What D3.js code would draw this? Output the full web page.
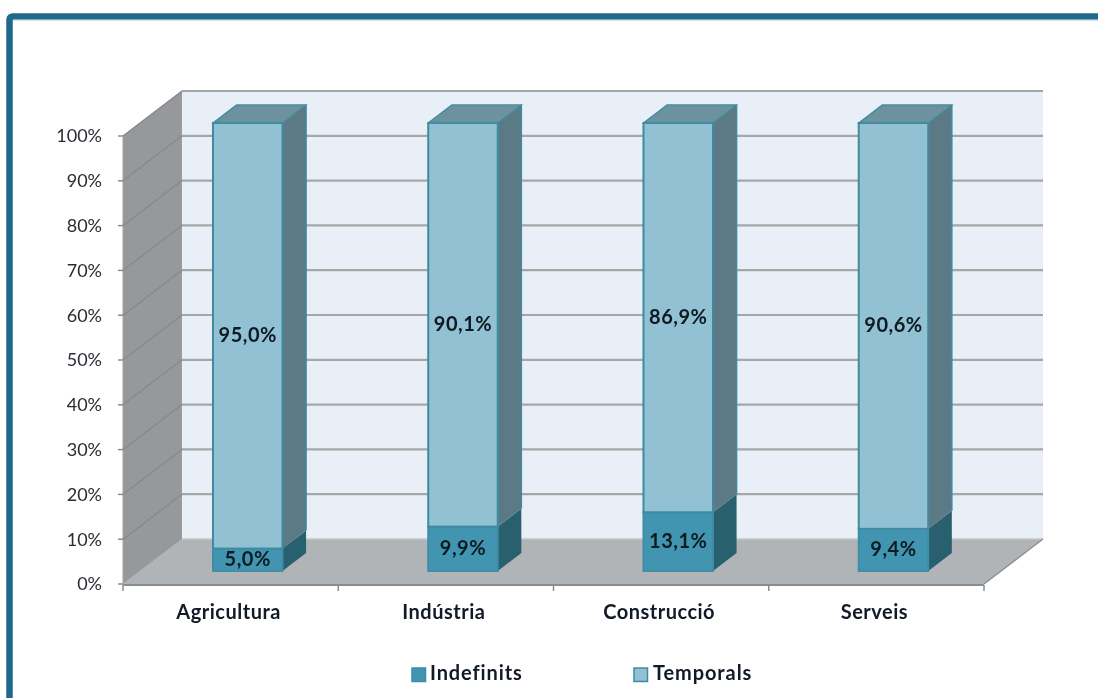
<!DOCTYPE html>
<html><head><meta charset="utf-8">
<script src="https://cdn.jsdelivr.net/npm/d3@7"></script>
<style>html,body{margin:0;padding:0;background:#fff}svg{display:block;filter:blur(0.45px)}</style>
</head><body><svg id="c" width="1098" height="698"></svg>
<script>
const categories = ["Agricultura","Indústria","Construcció","Serveis"];
const indefinits = [5.0,9.9,13.1,9.4];
const temporals = [95.0,90.1,86.9,90.6];
const yTicks = [0,10,20,30,40,50,60,70,80,90,100];
const seriesNames = ["Indefinits","Temporals"];

const svg = d3.select("#c");
const labelFont = "Lato, sans-serif";
const x = d3.scaleBand().domain(categories).range([123,984]);
const xEdge = d3.scaleLinear().domain([0,categories.length]).range([123,984]);
const y = d3.scaleLinear().domain([0,100]).range([584,136]);
const depthX = d3.scaleLinear().domain([0,1]).range([0,59]);
const depthY = d3.scaleLinear().domain([0,1]).range([0,-45]);
const P = (px,v,z)=>[px+depthX(z),y(v)+depthY(z)];
const poly = pts => "M"+pts.map(p=>p.join(",")).join("L")+"Z";

// frame
svg.append("rect").attr("x",9.5).attr("y",16.5).attr("width",1200).attr("height",800).attr("rx",3)
  .attr("fill","#fff").attr("stroke","#1f6a8a").attr("stroke-width",6.5);
svg.append("line").attr("x1",13).attr("x2",1098).attr("y1",20).attr("y2",20).attr("stroke","#a9c6d4").attr("stroke-width",1);

const [L,R]=[123,984];
// walls
svg.append("path").attr("d",poly([P(L,0,0),P(L,100,0),P(L,100,1),P(L,0,1)])).attr("fill","#96989c").attr("stroke","#a0a2a5");
svg.append("path").attr("d",poly([P(L,0,1),P(L,100,1),P(R,100,1),P(R,0,1)])).attr("fill","#e9eff6");
svg.append("path").attr("d",poly([P(L,0,0),P(L,0,1),P(R,0,1),P(R,0,0)])).attr("fill","#b1b4b7");

// gridlines
const grid = svg.append("g").attr("fill","none").attr("stroke","#a6a6a6");
yTicks.forEach(t=>{
  if(t>0){
    grid.append("path").attr("d",d3.line()([P(L,t,1),P(R,t,1)])).attr("stroke-width",2.2);
    grid.append("path").attr("d",d3.line()([P(L,t,0),P(L,t,1)])).attr("stroke","#86888b").attr("stroke-width",1.2);
  }
  grid.append("line").attr("x1",118).attr("x2",L).attr("y1",y(t)).attr("y2",y(t)).attr("stroke","#8c8c8c").attr("stroke-width",1.5);
});
svg.append("path").attr("d",d3.line()([P(L,0,1),P(R,0,1)])).attr("stroke","#c4c7ca").attr("stroke-width",1.5);
svg.append("path").attr("d",d3.line()([P(R,0,0),P(R,0,1)])).attr("stroke","#8f9193").attr("stroke-width",1.5);
svg.append("line").attr("x1",L).attr("x2",R).attr("y1",585).attr("y2",585).attr("stroke","#8c8c8c").attr("stroke-width",2);
d3.range(categories.length+1).forEach(i=>{
  svg.append("line").attr("x1",xEdge(i)).attr("x2",xEdge(i)).attr("y1",585).attr("y2",591).attr("stroke","#8c8c8c").attr("stroke-width",1.5);
});

// bars
const barW = 69.5, z0 = 0.29, z1 = 0.69;
const colors = {
  Indefinits:{front:"#4295b0",side:"#28606f",top:"#35788c",stroke:"#3f8ca6"},
  Temporals:{front:"#92c1d4",side:"#5b7a85",top:"#6c929f",stroke:"#3f8ba0"}
};
categories.forEach((c,i)=>{
  const cx = x(c)+x.bandwidth()/2+depthX(z0);
  const xl = cx-barW/2-depthX(z0), xr = xl+barW;
  const segs=[["Indefinits",0,indefinits[i]],["Temporals",indefinits[i],indefinits[i]+temporals[i]]];
  segs.forEach(([n,a,b])=>{
    const col=colors[n], g=svg.append("g");
    g.append("path").attr("d",poly([P(xr,a,z0),P(xr,b,z0),P(xr,b,z1),P(xr,a,z1)])).attr("fill",col.side);
    if(n==="Temporals"){
      g.append("path").attr("d",poly([P(xl,b,z0),P(xr,b,z0),P(xr,b,z1),P(xl,b,z1)])).attr("fill",col.top).attr("stroke",col.stroke).attr("stroke-width",1.2);
      g.append("path").attr("d",d3.line()([P(xr,b,z1),P(xr,a,z1)])).attr("stroke",col.stroke).attr("stroke-width",1.5);
    }
    const [fx,fy]=P(xl,b,z0), fh=y(a)-y(b);
    g.append("rect").attr("x",fx).attr("y",fy).attr("width",barW).attr("height",fh)
      .attr("fill",col.front).attr("stroke",col.stroke).attr("stroke-width",2);
    const lab=(b-a).toFixed(1).replace(".",",")+"%";
    g.append("text").attr("x",fx+barW/2).attr("y",fy+fh/2-1).attr("dy","0.36em").attr("text-anchor","middle")
      .attr("font-family",labelFont).attr("font-weight",700).attr("font-size",20).attr("letter-spacing",0.5).attr("fill","#0d1a22").text(lab);
  });
  svg.append("text").attr("x",x(c)+x.bandwidth()/2-2).attr("y",619).attr("text-anchor","middle")
    .attr("font-family",labelFont).attr("font-weight",700).attr("font-size",20).attr("letter-spacing",0.5).attr("fill","#111a26").text(c);
});

// y labels
yTicks.forEach(t=>{
  svg.append("text").attr("x",102).attr("y",y(t)).attr("dy","0.36em").attr("text-anchor","end")
    .attr("font-family",labelFont).attr("font-size",18).attr("fill","#2b2b33").text(t+"%");
});

// legend
const legendX=[412,634];
seriesNames.forEach((n,i)=>{
  svg.append("rect").attr("x",legendX[i]).attr("y",668).attr("width",13.5).attr("height",13.5)
    .attr("fill",colors[n].front).attr("stroke",colors[n].stroke).attr("stroke-width",1.5);
  svg.append("text").attr("x",legendX[i]+(i?19:18)).attr("y",680)
    .attr("font-family",labelFont).attr("font-weight",700).attr("font-size",20).attr("letter-spacing",0.9).attr("fill","#111a26").text(n);
});
</script></body></html>
